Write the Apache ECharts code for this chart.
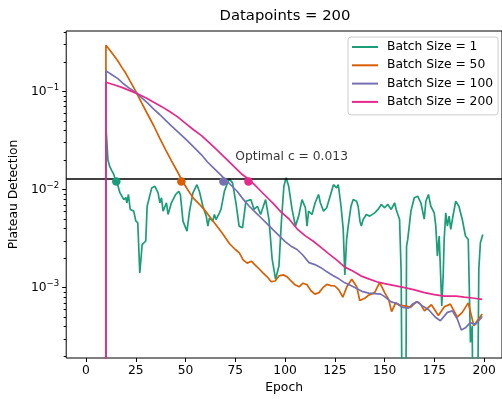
<!DOCTYPE html>
<html>
<head>
<meta charset="utf-8">
<script src="https://cdn.jsdelivr.net/npm/echarts@6/dist/echarts.min.js"></script>
<style>
  html, body { margin: 0; padding: 0; background: #fff; }
  #chart { width: 502px; height: 399px; }
</style>
</head>
<body>
<div id="chart"></div>
<script>
// 图例名称和颜色 (Dark2)
const seriesNames = ['Batch Size = 1', 'Batch Size = 50', 'Batch Size = 100', 'Batch Size = 200'];
const seriesColors = ['#1b9e77', '#d95f02', '#7570b3', '#e7298a'];

// [epoch, value]
const bs1 = [[10,1e-5],[10,0.045],[11,0.02],[12,0.017],[13,0.0155],[14,0.0142],[15,0.012],[16,0.011],[17,0.0093],[18,0.0095],[19,0.0079],[20,0.0083],[20.5,0.0073],[21.3,0.0089],[22.2,0.0063],[24,0.006],[25,0.0048],[26,0.00457],[27,0.00141],[28.2,0.00275],[30,0.00299],[30.7,0.00676],[33,0.0104],[34.6,0.0108],[36.2,0.00925],[37.1,0.00733],[37.9,0.00824],[38.7,0.00603],[40.4,0.00733],[41.2,0.00557],[42.9,0.00733],[45,0.0089],[46.6,0.0096],[47.4,0.0089],[48.7,0.00476],[50.7,0.00377],[52,0.00603],[53.7,0.00925],[55.7,0.0112],[57,0.0095],[58.7,0.00676],[60.4,0.00536],[61.2,0.00424],[62,0.00515],[63.6,0.00476],[64.5,0.00557],[65.3,0.00495],[67,0.00579],[67.8,0.00627],[69.5,0.0096],[71.1,0.0117],[71.9,0.0129],[73.6,0.0117],[75.3,0.00733],[76.9,0.00424],[78.6,0.00407],[80.3,0.0076],[82.8,0.0079],[84.4,0.00627],[86.1,0.00676],[87.7,0.00557],[90.2,0.0079],[91.9,0.00495],[93.5,0.00195],[95.2,0.00122],[96.9,0.00166],[98.2,0.00495],[99.4,0.0108],[100.5,0.0132],[101.8,0.0108],[103.5,0.00627],[105.2,0.00424],[106.8,0.00536],[108.5,0.0079],[110.2,0.00652],[111,0.00424],[111.8,0.00603],[113.5,0.00557],[115.1,0.00733],[116.8,0.0089],[117.7,0.00733],[119.3,0.00603],[120.9,0.00652],[122.6,0.00855],[124.3,0.0112],[125.9,0.0104],[126.7,0.0112],[128.1,0.00676],[129.2,0.00393],[130,0.00135],[130.9,0.0031],[131.7,0.00424],[133.1,0.00676],[134.2,0.0079],[135.9,0.0076],[136.7,0.00676],[137.6,0.00476],[138.3,0.00424],[139.2,0.00495],[140.8,0.00557],[142.5,0.00536],[145,0.00579],[146.7,0.00627],[148.3,0.00705],[150,0.00652],[151.6,0.00705],[153.3,0.00627],[155,0.00733],[155.8,0.00627],[157.5,0.00495],[158.3,0.00142],[159,1e-5],[160.5,1e-5],[161,0.00265],[161.6,0.0031],[163.2,0.00603],[164.9,0.00824],[166.6,0.00855],[168.2,0.00733],[169.9,0.005],[170.7,0.0076],[172,0.0089],[173.2,0.00676],[174.9,0.00579],[175.7,0.00424],[176.5,0.0021],[177.4,0.00336],[178.7,0.00065],[179.4,0.00132],[179.9,0.0031],[180.7,0.00579],[181.5,0.00424],[182.4,0.00536],[183.2,0.00393],[184,0.00495],[185.7,0.0076],[187.3,0.00676],[189,0.00495],[190.6,0.00336],[192,0.0031],[193.1,0.000277],[194,0.00041],[194.5,1e-5],[196.4,1e-5],[197.3,0.00154],[198.1,0.00287],[199.3,0.00349]];

const bs50 = [[10,1e-5],[10,0.296],[12,0.263],[14,0.232],[16,0.204],[18,0.176],[20,0.153],[22,0.129],[25,0.100],[28,0.0759],[31,0.0582],[34,0.0447],[37,0.0335],[40,0.0254],[43,0.0195],[46,0.0151],[48,0.0126],[51,0.0100],[54,0.00813],[57,0.00708],[60,0.00603],[63,0.00501],[66,0.00417],[69,0.00347],[72,0.00282],[75,0.00245],[77,0.00226],[79,0.00191],[81,0.00178],[83,0.00186],[85,0.0017],[87,0.00155],[89,0.00141],[91,0.00129],[93,0.00115],[95,0.00117],[97,0.00132],[99,0.00135],[101,0.00129],[103,0.00117],[105,0.00107],[107,0.00102],[109,0.00111],[111,0.00107],[113,0.00093],[115,0.00086],[117,0.00089],[119,0.001],[121,0.00108],[123,0.00105],[125,0.00104],[127,0.00095],[129,0.0008],[131,0.00102],[133.5,0.00122],[136,0.00102],[137.5,0.00074],[140,0.00078],[142,0.00084],[145,0.00089],[147.5,0.00113],[150,0.00089],[152,0.00076],[153.5,0.00057],[155.5,0.0007],[158,0.00066],[161,0.00065],[163,0.00063],[166,0.00072],[168,0.00068],[170,0.00058],[173.5,0.00067],[177,0.00052],[180,0.00064],[183,0.00068],[186.5,0.0005],[189,0.00056],[192,0.0007],[194.8,0.00041],[196.5,0.00046],[199,0.00054]];

const bs100 = [[10,1e-5],[10,0.162],[13,0.148],[16,0.135],[19,0.119],[22,0.107],[25,0.0977],[28,0.0861],[31,0.0759],[34,0.0661],[37,0.0582],[40,0.0507],[43,0.0442],[46,0.0389],[49,0.0343],[52,0.0299],[55,0.026],[58,0.0226],[61,0.0191],[64,0.0166],[67,0.0145],[70,0.0126],[73,0.011],[76,0.00955],[79,0.00794],[82,0.00676],[85,0.00589],[88,0.00513],[91,0.00447],[94,0.00389],[97,0.00339],[100,0.00295],[103,0.00265],[106,0.00245],[109,0.00214],[112,0.0018],[115,0.00172],[118,0.0016],[121,0.00145],[124,0.00133],[127,0.00123],[130,0.00112],[133,0.00105],[136,0.00098],[139,0.00091],[142,0.00088],[145,0.00087],[148,0.00086],[150,0.00081],[153,0.00072],[156,0.00069],[159,0.00063],[162,0.00062],[164,0.00068],[166.5,0.00072],[169,0.00065],[172,0.0006],[175.5,0.0005],[178,0.00046],[181.5,0.00056],[184,0.00058],[186.5,0.00048],[188.5,0.00037],[190.6,0.00039],[193,0.00044],[195.5,0.00042],[198,0.00048],[199,0.00051]];

const bs200 = [[10,1e-5],[10,0.124],[14,0.117],[18,0.110],[22,0.102],[26,0.0944],[30,0.0861],[34,0.0776],[38,0.07],[42,0.0624],[46,0.055],[50,0.0473],[54,0.0407],[58,0.0355],[62,0.0299],[66,0.0251],[70,0.0209],[74,0.0174],[78,0.0145],[82,0.0126],[86,0.0105],[90,0.0087],[94,0.00724],[98,0.00589],[102,0.00501],[106,0.00398],[110,0.00339],[114,0.00299],[118,0.00257],[122,0.00221],[126,0.00191],[130,0.00162],[134,0.00148],[138,0.00132],[142,0.00123],[146,0.00115],[150,0.0011],[155,0.00105],[160,0.001],[165,0.00095],[170,0.00089],[175,0.00085],[180,0.00082],[186,0.00082],[190,0.0008],[195,0.00078],[199,0.00076]];

const seriesData = [bs1, bs50, bs100, bs200];

// 阈值线和交点
const optimalC = 0.013;
const markerEpochs = [15.2, 47.9, 69, 81.6];
const markerValues = [0.0121, 0.0121, 0.0121, 0.0121];
const annotationPos = [75, 0.02];
const annotationText = 'Optimal c = 0.013';

// 刻度
const xTicks = [0, 25, 50, 75, 100, 125, 150, 175, 200];
const yTicks = [0.001, 0.01, 0.1];
const yTickExponents = ['−3', '−2', '−1'];
const yMinorTicks = [2e-4, 3e-4, 4e-4, 5e-4, 6e-4, 7e-4, 8e-4, 9e-4,
  2e-3, 3e-3, 4e-3, 5e-3, 6e-3, 7e-3, 8e-3, 9e-3,
  2e-2, 3e-2, 4e-2, 5e-2, 6e-2, 7e-2, 8e-2, 9e-2,
  0.2, 0.3, 0.4];

const FONT = 'DejaVu Sans';
const FS = 12.3;

var myChart = echarts.init(document.getElementById('chart'), null, { renderer: 'canvas' });

var option = {
  animation: false,
  textStyle: { fontFamily: FONT },
  title: {
    text: 'Datapoints = 200',
    left: 285,
    top: 9,
    padding: 0,
    textAlign: 'center',
    textStyle: { fontFamily: FONT, fontSize: 14.8, fontWeight: 'normal', color: '#000' }
  },
  legend: {
    data: seriesNames,
    orient: 'vertical',
    left: 348,
    top: 37,
    padding: [3, 5, 6, 4],
    itemWidth: 26,
    itemHeight: 2,
    itemGap: 4.3,
    icon: 'rect',
    backgroundColor: 'rgba(255,255,255,0.8)',
    borderColor: '#cccccc',
    borderWidth: 1,
    borderRadius: 3,
    textStyle: { fontFamily: FONT, fontSize: FS, color: '#000', lineHeight: 14, padding: [0, 0, 0, 4] }
  },
  grid: {
    left: 66,
    right: -3,
    top: 31,
    bottom: 40,
    show: true,
    borderColor: '#000',
    borderWidth: 1,
    backgroundColor: 'transparent'
  },
  xAxis: {
    type: 'value',
    min: -9.95,
    max: 208.95,
    name: 'Epoch',
    nameLocation: 'middle',
    nameGap: 24,
    nameTextStyle: { fontFamily: FONT, fontSize: FS, color: '#000' },
    axisLine: { show: false, onZero: false },
    axisTick: { show: true, customValues: xTicks, length: 4, lineStyle: { color: '#000', width: 1 } },
    axisLabel: { customValues: xTicks, margin: 7, fontFamily: FONT, fontSize: FS, color: '#000' },
    splitLine: { show: false }
  },
  yAxis: [
    {
      type: 'log',
      logBase: 10,
      min: 1.92e-4,
      max: 0.413,
      position: 'left',
      name: 'Plateau Detection',
      nameLocation: 'middle',
      nameGap: 44,
      nameTextStyle: { fontFamily: FONT, fontSize: FS, color: '#000' },
      axisLine: { show: false, onZero: false },
      axisTick: { show: true, customValues: yTicks, length: 4, lineStyle: { color: '#000', width: 1 } },
      axisLabel: {
        customValues: yTicks,
        margin: 7,
        formatter: function (v) {
          const i = yTicks.findIndex(t => Math.abs(t - v) / t < 1e-6);
          return i < 0 ? '' : '{b|10}{s|' + yTickExponents[i] + '}';
        },
        rich: {
          b: { fontFamily: FONT, fontSize: FS, color: '#000', lineHeight: 16 },
          s: { fontFamily: FONT, fontSize: 8.6, color: '#000', lineHeight: 10, verticalAlign: 'top' }
        }
      },
      splitLine: { show: false }
    },
    {
      type: 'log',
      logBase: 10,
      min: 1.92e-4,
      max: 0.413,
      position: 'left',
      offset: 0,
      axisLine: { show: false, onZero: false },
      axisTick: { show: true, customValues: yMinorTicks, length: 2.5, lineStyle: { color: '#000', width: 1 } },
      axisLabel: { show: false },
      splitLine: { show: false }
    }
  ],
  series: seriesData.map((d, idx) => ({
    name: seriesNames[idx],
    type: 'line',
    data: d,
    yAxisIndex: 0,
    showSymbol: false,
    symbol: 'none',
    clip: true,
    z: 2 + idx,
    color: seriesColors[idx],
    lineStyle: { color: seriesColors[idx], width: 1.7 }
  })).concat([
    {
      // 阈值横线
      name: 'threshold',
      type: 'line',
      yAxisIndex: 0,
      z: 8,
      data: [],
      markLine: {
        silent: true,
        precision: 6,
        symbol: ['none', 'none'],
        label: { show: false },
        lineStyle: { color: '#000', width: 1.6, type: 'solid' },
        data: [{ yAxis: optimalC }]
      }
    },
    {
      name: 'crossings',
      type: 'scatter',
      yAxisIndex: 0,
      z: 12,
      symbolSize: 8.5,
      data: markerEpochs.map((e, i) => ({ value: [e, markerValues[i]], itemStyle: { color: seriesColors[i], opacity: 1 } }))
    },
    {
      name: 'annotation',
      type: 'scatter',
      yAxisIndex: 0,
      symbolSize: 0,
      z: 11,
      data: [annotationPos],
      label: {
        show: true,
        position: [0, 3],
        align: 'left',
        verticalAlign: 'bottom',
        formatter: annotationText,
        fontFamily: FONT,
        fontSize: FS,
        color: '#000'
      }
    }
  ])
};

myChart.setOption(option);
</script>
</body>
</html>
